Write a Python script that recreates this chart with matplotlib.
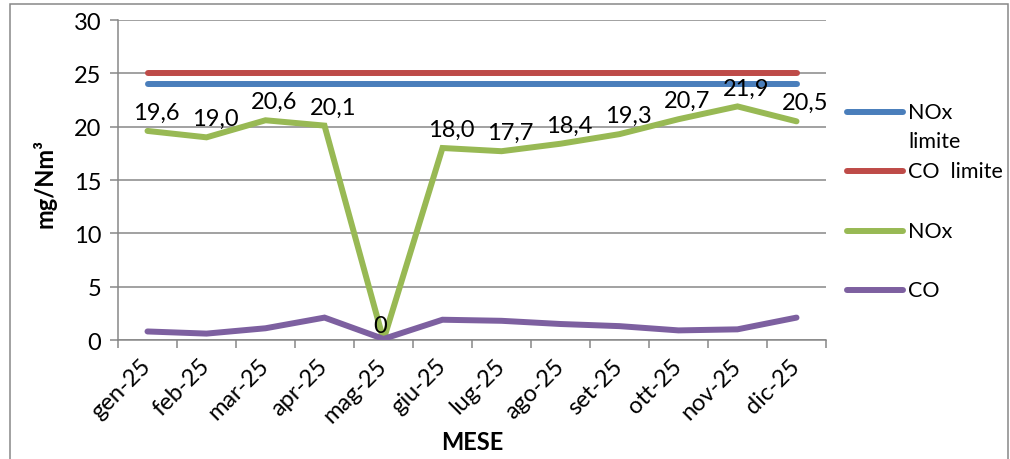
import matplotlib
matplotlib.use("Agg")
import matplotlib.pyplot as plt
from matplotlib.lines import Line2D
from matplotlib.patches import Rectangle

plt.rcParams['font.family'] = ['Lato', 'DejaVu Sans']

months = ["gen-25", "feb-25", "mar-25", "apr-25", "mag-25", "giu-25",
          "lug-25", "ago-25", "set-25", "ott-25", "nov-25", "dic-25"]
nox_limit = [24] * 12
co_limit = [25] * 12
nox = [19.6, 19.0, 20.6, 20.1, 0, 18.0, 17.7, 18.4, 19.3, 20.7, 21.9, 20.5]
co = [0.8, 0.6, 1.1, 2.1, 0.1, 1.9, 1.8, 1.5, 1.3, 0.9, 1.0, 2.1]
yticks = [0, 5, 10, 15, 20, 25, 30]

W, H = 1010, 460
FS = 17
FS_LEG = 15.5
fig = plt.figure(figsize=(W / 100, H / 100), dpi=100)
ax = fig.add_axes([118 / W, 1 - 341 / H, (826 - 118) / W, (341 - 21) / H])

grid_col = "#878787"
c_blue, c_red, c_green, c_purple = "#4A7EBB", "#BE4B48", "#98B954", "#7D60A0"
lw = 4.3
x = list(range(len(months)))

series = [
    (nox_limit, c_blue, "NOx\nlimite"),
    (co_limit, c_red, "CO  limite"),
    (nox, c_green, "NOx"),
    (co, c_purple, "CO"),
]
for vals, col, lab in series:
    ax.plot(x, vals, color=col, lw=lw, solid_capstyle="round",
            solid_joinstyle="miter", zorder=3)

# data labels for NOx
for xi, v in zip(x, nox):
    if v == 0:
        txt, off = "0", (-3, 4)
    else:
        txt, off = f"{v:.1f}".replace(".", ","), (9, 8)
    ax.annotate(txt, (xi, v), xytext=off, textcoords="offset pixels",
                ha="center", va="bottom", fontsize=FS, color="black", zorder=5)

ax.set_xlim(-0.5, len(months) - 0.5)
ax.set_ylim(0, 30)
ax.set_yticks(yticks)
ax.set_yticklabels([str(t) for t in yticks], fontsize=FS)
ax.yaxis.grid(True, color=grid_col, lw=1.1)
ax.set_axisbelow(True)

ax.set_xticks(x)
ax.set_xticklabels(months, rotation=45, ha="right", va="center",
                   rotation_mode="anchor", fontsize=FS)
ax.set_xticks([i - 0.5 for i in range(len(months) + 1)], minor=True)
ax.tick_params(axis="x", which="major", length=0, pad=16)
ax.tick_params(axis="x", which="minor", length=6, width=1.1, color=grid_col)
ax.tick_params(axis="y", length=6, width=1.1, color=grid_col, pad=6)

for s in ["top", "right"]:
    ax.spines[s].set_visible(False)
for s in ["left", "bottom"]:
    ax.spines[s].set_color(grid_col)
    ax.spines[s].set_linewidth(1.1)

# axis titles
fig.text(472 / W, 1 - 443 / H, "MESE", fontsize=FS, fontweight="bold",
         ha="center", va="center")
fig.text(44 / W, 1 - 183 / H, "mg/Nm³", fontsize=FS, fontweight="bold",
         ha="center", va="center", rotation=90)

# legend
leg_y = [113, 172, 232, 291]
for (vals, col, lab), yy in zip(series, leg_y):
    yf = 1 - yy / H
    fig.add_artist(Line2D([847 / W, 903 / W], [yf, yf], color=col, lw=lw,
                          solid_capstyle="round", transform=fig.transFigure))
    for k, line in enumerate(lab.split("\n")):
        fig.text(908 / W, 1 - (yy + k * 29) / H, line, fontsize=FS_LEG,
                 va="center", ha="left")

# chart border
fig.add_artist(Rectangle((10 / W, -0.1), (1008 - 10) / W, 1.1 - 5 / H,
                         transform=fig.transFigure, fill=False,
                         edgecolor=grid_col, lw=1.1))

fig.savefig("out.png", dpi=100)
